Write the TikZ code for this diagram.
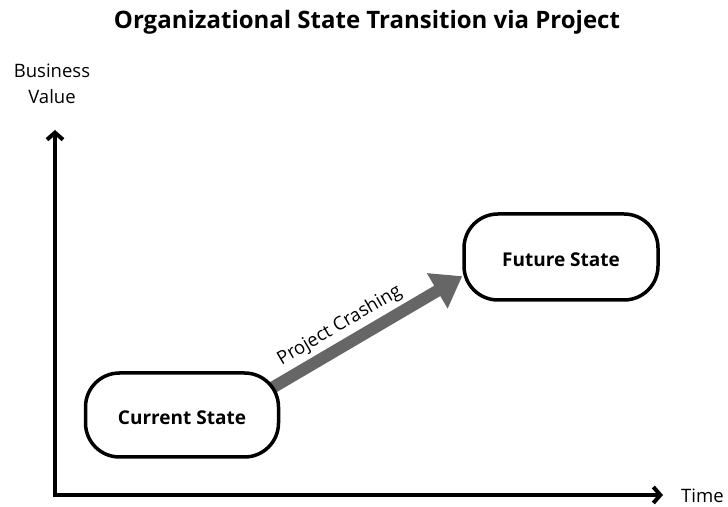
\documentclass[tikz,border=0pt]{standalone}
\usepackage{fontspec}
\setmainfont{Open Sans}
\usetikzlibrary{arrows.meta}
\pgfdeclarelayer{background}
\pgfsetlayers{background,main}
\begin{document}
\begin{tikzpicture}[x=1pt,y=1pt,
  statebox/.style={draw=black, line width=3.5pt, rounded corners=34pt, fill=white,
    minimum width=193pt, minimum height=84pt, text height=20pt, text depth=0pt,
    font=\fontsize{19}{22}\selectfont\bfseries},
  axis/.style={line width=4pt, -{Straight Barb[length=7pt,width=16pt,line width=4pt]}},
  flow/.style={draw=black!60, line width=12pt, -{Triangle[width=39pt,length=29pt]}},
  flowlabel/.style={font=\fontsize{18.5}{22}\selectfont, sloped, above, inner sep=4pt},
  axislabel/.style={font=\fontsize{18.5}{26}\selectfont, align=center, inner sep=0pt}]
  \useasboundingbox (0,0) rectangle (728,506);

  % title
  \node (title) at (367,484) {\fontsize{24}{28}\selectfont\bfseries Organizational State Transition via Project};

  % axes
  \coordinate (origin) at (55,11);
  \coordinate (ytop) at (55,376);
  \coordinate (xend) at (663,11);
  \draw[axis] ([yshift=-2pt]origin) -- (ytop);
  \draw[axis] ([xshift=-2pt]origin) -- (xend);
  \node[axislabel] (ylab) at (52,422) {Business\\Value};
  \node[axislabel, anchor=west] (xlab) at (681,10) {Time};

  % states
  \node[statebox] (cur) at (182,91) {Current State};
  \node[statebox, minimum width=194pt, minimum height=86pt] (fut) at (561,249) {Future State};

  % transition arrow, drawn beneath the boxes
  \begin{pgfonlayer}{background}
    \draw[flow, shorten <=-12pt] (cur.18) -- node[flowlabel, pos=0.38] {Project Crashing} (fut.191);
  \end{pgfonlayer}
\end{tikzpicture}
\end{document}
